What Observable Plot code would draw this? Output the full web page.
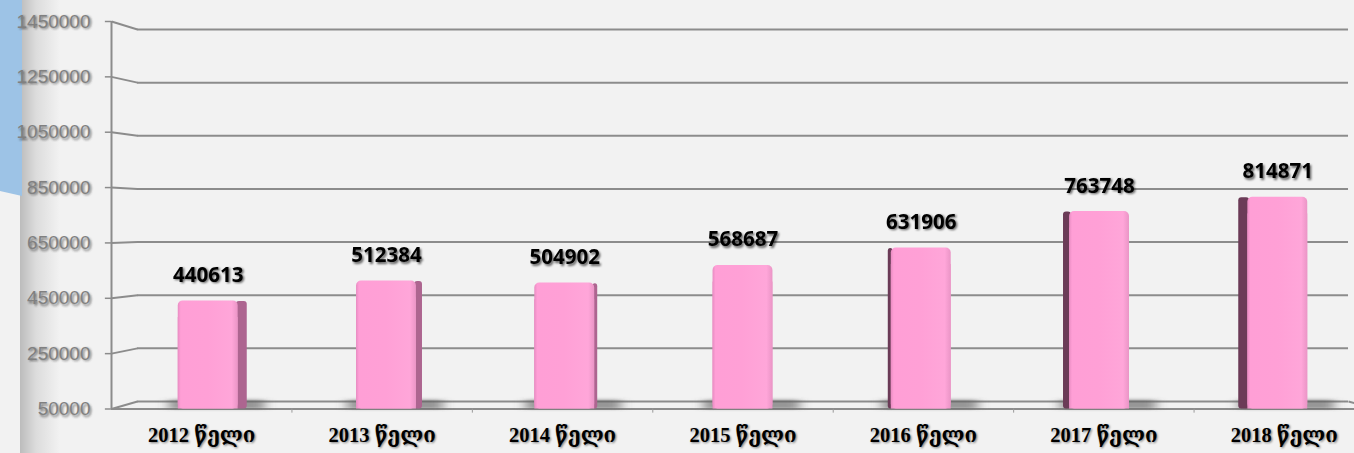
<!DOCTYPE html>
<html>
<head>
<meta charset="utf-8">
<script src="https://cdn.jsdelivr.net/npm/d3@7"></script>
<script src="https://cdn.jsdelivr.net/npm/@observablehq/plot@0.6"></script>
<style>
  html, body { margin: 0; padding: 0; background: #f2f2f2; }
  #wrap { position: relative; width: 1354px; height: 453px; background: #f2f2f2; overflow: hidden; }
  #grad { position: absolute; left: 20px; top: 0; width: 40px; height: 453px;
          background: linear-gradient(to right, #bcbcbc, #dcdcdc 40%, #f2f2f2); }
  #blue { position: absolute; left: 0; top: 0; width: 22px; height: 196px; background: #9dc3e6;
          clip-path: polygon(0 0, 100% 0, 100% 100%, 0 97.5%); }
  #chart { position: absolute; left: 0; top: 0; }
</style>
</head>
<body>
<div id="wrap">
  <div id="grad"></div>
  <div id="blue"></div>
  <div id="chart"></div>
</div>
<script>
// ---- data ----
const categories = ["2012 წელი", "2013 წელი", "2014 წელი", "2015 წელი", "2016 წელი", "2017 წელი", "2018 წელი"];
const values = [440613, 512384, 504902, 568687, 631906, 763748, 814871];
const yTicks = [50000, 250000, 450000, 650000, 850000, 1050000, 1250000, 1450000];
const yTickLabels = ["50000", "250000", "450000", "650000", "850000", "1050000", "1250000", "1450000"];

// ---- layout / pseudo-3D constants ----
const yDomain = [50000, 1450000];
const yRangeFront = [408.5, 21];
const yRangeBack = [401, 29];
const depth = 0.144;           // back wall offset in category units
const persp = 0.988;           // bar front plane contraction
const hw = 0.166;              // half bar width in category units
const sideK = 0.017;           // side face width factor
const yFront = d3.scaleLinear(yDomain, yRangeFront);
const yBack = d3.scaleLinear(yDomain, yRangeBack);
const backVal = v => yFront.invert(yBack(v));
const base = yDomain[0];

const rows = categories.map((c, i) => {
  const xb = 3.5 + (i + 0.5 - 3.5) * persp;
  const s = (3.5 - xb) * sideK;
  return {c, v: values[i], i, xb, s};
});
const ticks = yTicks.map((t, k) => ({t, label: yTickLabels[k]}));
const bounds = d3.range(1, categories.length);

const gridColor = "#8c8c8c";
const valueFont = "'Open Sans', Lato, sans-serif";
const catFont = "'Liberation Serif', 'DejaVu Serif', 'DejaVu Sans', serif";
const axisFont = "'Liberation Sans', Arial, sans-serif";

const svg = Plot.plot({
  width: 1354,
  height: 453,
  marginLeft: 111,
  marginRight: 0,
  marginTop: 0,
  marginBottom: 44,
  style: {background: "transparent"},
  x: {type: "linear", domain: [0, 7], range: [111, 1374], axis: null},
  y: {domain: yDomain, range: yRangeFront, axis: null},
  marks: [
    // back wall gridlines
    Plot.ruleY(ticks, {y: d => backVal(d.t), x1: depth, x2: 7 - depth, stroke: gridColor, strokeWidth: 2}),
    // connectors from front axis to back wall
    Plot.link(ticks, {x1: 0, y1: d => d.t, x2: depth, y2: d => backVal(d.t), stroke: gridColor, strokeWidth: 2}),
    Plot.link([base], {x1: 7 - depth, y1: d => backVal(d), x2: 7, y2: d => d, stroke: gridColor, strokeWidth: 2}),
    // front floor edge
    Plot.ruleY([base], {x1: 0, x2: 7, stroke: gridColor, strokeWidth: 2}),
    // y axis line + ticks
    Plot.ruleX([0], {y1: yDomain[0], y2: yDomain[1], stroke: gridColor, strokeWidth: 2}),
    Plot.ruleY(ticks, {y: "t", x1: -0.034, x2: 0, stroke: gridColor, strokeWidth: 1.5}),
    // bottom category boundary ticks
    Plot.ruleX(bounds, {y1: base, y2: base - 15000, stroke: "#9a9a9a", strokeWidth: 1}),
    // bar base shadows
    Plot.rect(rows, {x1: d => d.xb - hw - 0.05, x2: d => d.xb + hw + 0.15, y1: base - 2000, y2: d => backVal(base) + 5000,
                     fill: "#5a5a5a", fillOpacity: 0.6, ariaDescription: "shadow"}),
    // side faces
    Plot.rect(rows.filter(d => Math.abs(d.s) > 0.004), {
      x1: d => d.s > 0 ? d.xb + hw - 0.01 : d.xb - hw + d.s,
      x2: d => d.s > 0 ? d.xb + hw + d.s : d.xb - hw + 0.01,
      y1: base, y2: d => d.v - 2000,
      fill: d => d.s > 0 ? "#ad6590" : "#6b3b57", rx: 3
    }),
    // front faces (rounded top, square bottom)
    Plot.rect(rows, {x1: d => d.xb - hw, x2: d => d.xb + hw, y1: base, y2: "v", fill: "url(#barGrad)", rx: 5}),
    Plot.rect(rows, {x1: d => d.xb - hw, x2: d => d.xb + hw, y1: base, y2: d => d.v - 60000, fill: "url(#barGrad)"}),
    // value labels (shadow + text)
    Plot.text(rows, {x: "xb", y: "v", text: d => String(d.v), dy: -24, dx: 1.5, fill: "#000", fillOpacity: 0.6,
                     fontFamily: valueFont, fontWeight: 700, fontSize: 20.5, ariaDescription: "tshadow"}),
    Plot.text(rows, {x: "xb", y: "v", text: d => String(d.v), dy: -25.5, fill: "#000",
                     fontFamily: valueFont, fontWeight: 700, fontSize: 20.5}),
    // category labels
    Plot.text(rows, {x: d => d.i + 0.5, y: base, text: "c", dy: 27, dx: 1.2, fill: "#000", fillOpacity: 0.5,
                     fontFamily: catFont, fontWeight: 700, fontSize: 20.5, ariaDescription: "tshadow"}),
    Plot.text(rows, {x: d => d.i + 0.5, y: base, text: "c", dy: 26, fill: "#000",
                     fontFamily: catFont, fontWeight: 700, fontSize: 20.5}),
    // y tick labels
    Plot.text(ticks, {x: 0, y: "t", text: "label", dx: -19.5, dy: 1.5, textAnchor: "end", fill: "#3a3a3a", fillOpacity: 0.7,
                      fontFamily: axisFont, fontSize: 19, ariaDescription: "tshadow"}),
    Plot.text(ticks, {x: 0, y: "t", text: "label", dx: -21, textAnchor: "end", fill: "#808080",
                      fontFamily: axisFont, fontSize: 19})
  ]
});

// gradient + blur definitions
const sel = d3.select(svg);
const defs = sel.insert("defs", ":first-child");
const g = defs.append("linearGradient").attr("id", "barGrad").attr("x1", 0).attr("x2", 1).attr("y1", 0).attr("y2", 0);
[[0, "#e88cc2"], [0.05, "#ff9fd6"], [0.5, "#ffa0d6"], [0.9, "#ffa6d9"], [1, "#ea95c6"]]
  .forEach(([o, c]) => g.append("stop").attr("offset", o).attr("stop-color", c));
defs.append("filter").attr("id", "blurS").attr("filterUnits", "userSpaceOnUse")
  .attr("x", 0).attr("y", 0).attr("width", 1354).attr("height", 453)
  .append("feGaussianBlur").attr("stdDeviation", "6 1.5");
defs.append("filter").attr("id", "blurT").attr("filterUnits", "userSpaceOnUse")
  .attr("x", 0).attr("y", 0).attr("width", 1354).attr("height", 453)
  .append("feGaussianBlur").attr("stdDeviation", 1);
svg.querySelectorAll('[aria-description="shadow"]').forEach(n => n.setAttribute("filter", "url(#blurS)"));
svg.querySelectorAll('[aria-description="tshadow"]').forEach(n => n.setAttribute("filter", "url(#blurT)"));

document.getElementById("chart").appendChild(svg);
</script>
</body>
</html>
